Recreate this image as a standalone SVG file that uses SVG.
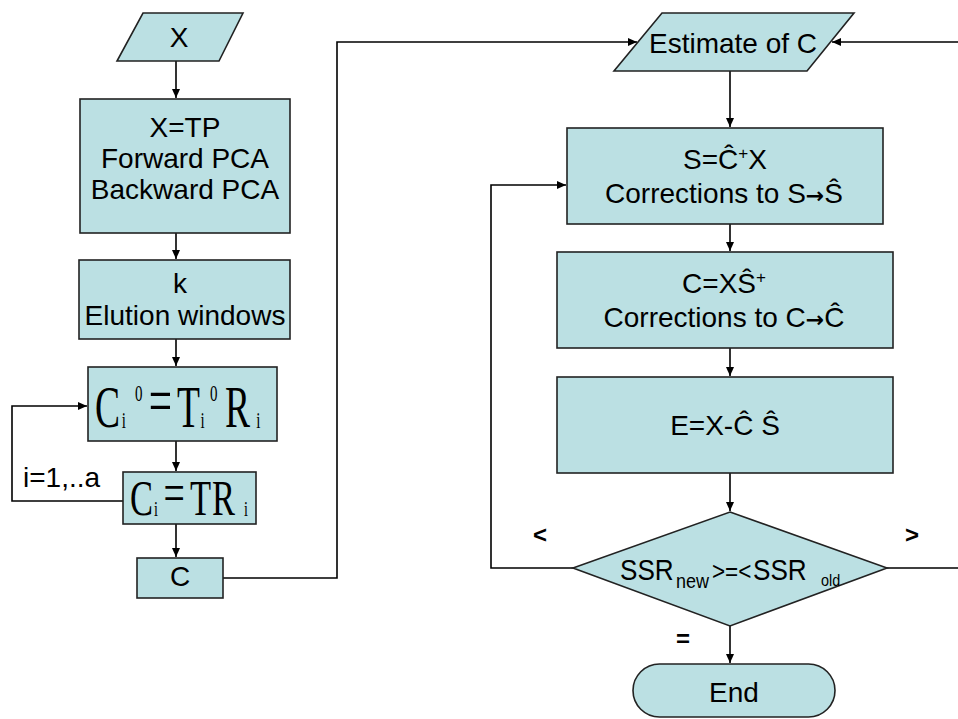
<svg xmlns="http://www.w3.org/2000/svg" width="958" height="719" viewBox="0 0 958 719">
<defs>
<style>
.n{fill:#bbe0e3;stroke:#222;stroke-width:1.6}
.t{font-family:"Liberation Sans",Arial,sans-serif;font-size:28px;fill:#000;text-anchor:middle}
.m{font-family:"Liberation Serif","Times New Roman",serif;fill:#000}
.c{fill:none;stroke:#000;stroke-width:1.6}
.l{font-family:"Liberation Sans",Arial,sans-serif;font-size:28px;fill:#000}
.b{font-family:"Liberation Sans",Arial,sans-serif;font-size:24px;font-weight:bold;fill:#000;text-anchor:middle}
.ar{font-family:"DejaVu Sans",sans-serif;font-size:22px;font-weight:bold}
.d{font-family:"Liberation Sans",Arial,sans-serif;fill:#000}
</style>
<marker id="ah" markerWidth="10" markerHeight="10" refX="9" refY="5" orient="auto" markerUnits="userSpaceOnUse">
<path d="M0,1 L9,5 L0,9 Z" fill="#000"/>
</marker>
</defs>
<rect width="958" height="719" fill="#fff"/>

<g id="connectors">
<line class="c" x1="176" y1="61" x2="176" y2="98" marker-end="url(#ah)"/>
<line class="c" x1="176" y1="233" x2="176" y2="259" marker-end="url(#ah)"/>
<line class="c" x1="176" y1="339" x2="176" y2="366" marker-end="url(#ah)"/>
<line class="c" x1="176" y1="441" x2="176" y2="471" marker-end="url(#ah)"/>
<line class="c" x1="176" y1="524" x2="176" y2="557" marker-end="url(#ah)"/>
<path class="c" d="M123,501 H12 V406 H87" marker-end="url(#ah)"/>
<path class="c" d="M223,578 H337 V42 H637" marker-end="url(#ah)"/>
<line class="c" x1="730" y1="71" x2="730" y2="127" marker-end="url(#ah)"/>
<line class="c" x1="730" y1="224" x2="730" y2="251" marker-end="url(#ah)"/>
<line class="c" x1="730" y1="348" x2="730" y2="376" marker-end="url(#ah)"/>
<line class="c" x1="730" y1="473" x2="730" y2="511" marker-end="url(#ah)"/>
<line class="c" x1="730" y1="626" x2="730" y2="663" marker-end="url(#ah)"/>
<path class="c" d="M573,568 H491 V185 H566" marker-end="url(#ah)"/>
<path class="c" d="M887,568 H966 V42 H832" marker-end="url(#ah)"/>
<text class="l" x="23" y="487">i=1,..a</text>
<text class="b" x="540" y="543">&lt;</text>
<text class="b" x="912" y="543">&gt;</text>
<text class="b" x="683" y="647">=</text>
</g>

<g id="nodeX">
<polygon class="n" points="143,13 243,13 219,61 117,61"/>
<text class="t" x="179" y="47">X</text>
</g>

<g id="nodePCA">
<rect class="n" x="80" y="99" width="210" height="134"/>
<text class="t" x="185" y="137">X=TP</text>
<text class="t" x="185" y="168">Forward PCA</text>
<text class="t" x="185" y="199">Backward PCA</text>
</g>

<g id="nodeK">
<rect class="n" x="79" y="260" width="211" height="79"/>
<text class="t" x="180" y="293">k</text>
<text class="t" x="185" y="325">Elution windows</text>
</g>

<g id="nodeCi0">
<rect class="n" x="88" y="367" width="189" height="74"/>
<text class="m" transform="scale(0.625,1)" font-size="60"><tspan x="152" y="427">C</tspan><tspan x="195" y="428" font-size="24">i</tspan><tspan x="216" y="401" font-size="24">0</tspan><tspan x="238" y="423" font-size="66">=</tspan><tspan x="283.2" y="427">T</tspan><tspan x="321" y="428" font-size="24">i</tspan><tspan x="336" y="401" font-size="24">0</tspan><tspan x="360" y="427">R</tspan><tspan x="410" y="428" font-size="24">i</tspan></text>
</g>

<g id="nodeCi">
<rect class="n" x="123" y="472" width="133" height="52"/>
<text class="m" transform="scale(0.676,1)" font-size="51"><tspan x="192.3" y="515">C</tspan><tspan x="228" y="516" font-size="21">i</tspan><tspan x="242" y="512" font-size="56">=</tspan><tspan x="281.1" y="515">T</tspan><tspan x="313.6" y="515">R</tspan><tspan x="361" y="516" font-size="21">i</tspan></text>
</g>

<g id="nodeC">
<rect class="n" x="137" y="558" width="86" height="40"/>
<text class="t" x="180" y="586">C</text>
</g>

<g id="nodeEstimate">
<polygon class="n" points="662,13 854,13 807,71 614,71"/>
<text class="t" x="733" y="53">Estimate of C</text>
</g>

<g id="nodeS">
<rect class="n" x="567" y="128" width="316" height="96"/>
<text class="t" x="725" y="169">S=Ĉ<tspan font-size="17" dy="-10">+</tspan><tspan dy="10">X</tspan></text>
<text class="t" x="724" y="203">Corrections to S<tspan class="ar">→</tspan>Ŝ</text>
</g>

<g id="nodeCX">
<rect class="n" x="557" y="252" width="336" height="96"/>
<text class="t" x="724" y="293">C=XŜ<tspan font-size="17" dy="-10">+</tspan></text>
<text class="t" x="724" y="327">Corrections to C<tspan class="ar">→</tspan>Ĉ</text>
</g>

<g id="nodeE">
<rect class="n" x="557" y="377" width="336" height="96"/>
<text class="t" x="725" y="435">E=X-Ĉ Ŝ</text>
</g>

<g id="nodeDecision">
<polygon class="n" points="730,512 887,568 730,626 573,568"/>
<text class="d" transform="scale(0.9,1)" font-size="29"><tspan x="688.9" y="580">SSR</tspan><tspan x="751.1" y="588" font-size="20">new</tspan><tspan x="791.1" y="580" font-size="25">&gt;=&lt;</tspan><tspan x="836.7" y="580">SSR</tspan><tspan x="912.2" y="586" font-size="16">old</tspan></text>
</g>

<g id="nodeEnd">
<rect class="n" x="633" y="664" width="202" height="53" rx="26.5" ry="26.5"/>
<text class="t" x="734" y="702">End</text>
</g>
</svg>
